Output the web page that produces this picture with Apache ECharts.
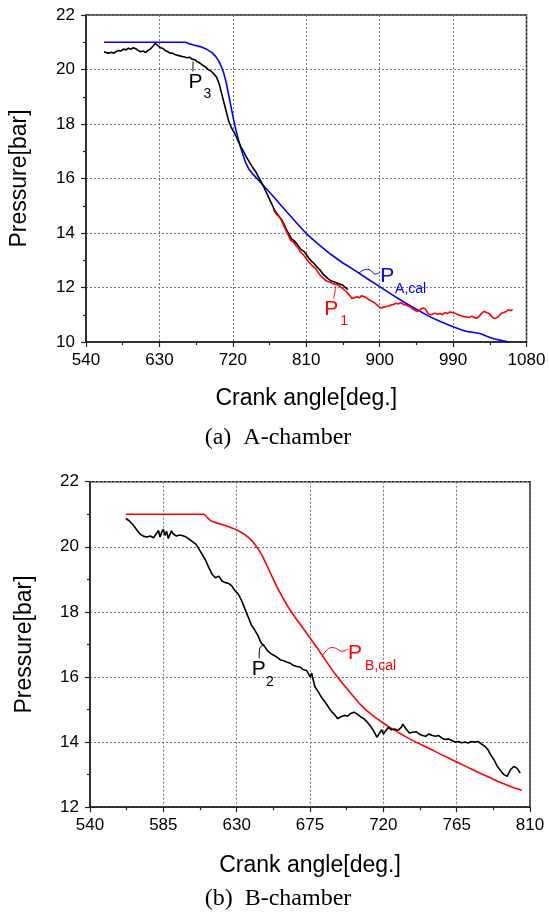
<!DOCTYPE html>
<html>
<head>
<meta charset="utf-8">
<script src="https://cdn.jsdelivr.net/npm/echarts@6/dist/echarts.min.js"></script>
<style>
html,body{margin:0;padding:0;background:#fff;}
#c{width:549px;height:912px;}
</style>
</head>
<body>
<div id="c"></div>
<script>
// ---------- Data (crank angle [deg], pressure [bar]) ----------
// Chart (a) A-chamber
const pACal = [[562,21.0],[580,21.0],[600,21.0],[620,21.0],[640,21.0],[662,21.0],[666,20.95],[672,20.9],[680,20.84],[688,20.74],[694,20.63],[699,20.48],[703,20.3],[706,20.1],[709,19.85],[712,19.5],[715,19.05],[718,18.6],[721,18.15],[724,17.75],[727,17.4],[730,17.1],[733,16.82],[736,16.56],[740,16.33],[745,16.15],[752,15.92],[760,15.66],[770,15.33],[780,14.98],[795,14.48],[810,13.98],[825,13.58],[840,13.22],[855,12.9],[870,12.62],[885,12.32],[900,12.03],[915,11.74],[930,11.46],[945,11.2],[960,10.95],[975,10.74],[990,10.56],[1000,10.45],[1008,10.38],[1016,10.35],[1024,10.3],[1032,10.2],[1040,10.12],[1050,10.05],[1058,10.0]];

const pA3 = [[562,20.65],[565,20.62],[568,20.6],[571,20.63],[574,20.6],[577,20.66],[580,20.7],[583,20.68],[586,20.75],[589,20.72],[592,20.78],[595,20.74],[598,20.8],[601,20.76],[604,20.7],[607,20.65],[610,20.68],[613,20.62],[616,20.7],[619,20.75],[622,20.85],[625,20.96],[628,20.88],[631,20.8],[634,20.78],[637,20.7],[640,20.66],[643,20.6],[646,20.6],[649,20.55],[652,20.52],[655,20.5],[658,20.48],[661,20.46],[664,20.43],[667,20.45],[670,20.38],[673,20.36],[676,20.3],[679,20.25],[682,20.18],[685,20.12],[688,20.05],[691,19.98],[694,19.92],[697,19.83],[700,19.72],[703,19.5],[706,19.15],[709,18.8],[712,18.45],[715,18.1],[718,17.88],[721,17.72],[724,17.55],[727,17.35],[730,17.15],[733,17.0],[736,16.82],[740,16.62],[744,16.42],[748,16.25],[752,16.02],[756,15.8],[760,15.56],[764,15.3],[768,15.05],[771,14.85],[774,14.72],[777,14.6],[780,14.48],[783,14.3],[786,14.1],[789,13.95],[792,13.78],[795,13.72],[798,13.62],[801,13.5],[804,13.38],[807,13.33],[810,13.22],[813,13.08],[816,12.98],[819,12.9],[822,12.8],[825,12.7],[828,12.6],[831,12.48],[834,12.4],[837,12.32],[840,12.25],[843,12.22],[846,12.18],[849,12.15],[852,12.12],[855,12.08],[858,12.0],[861,11.92]];

const pA1 = [[770,14.84],[773,14.7],[776,14.62],[779,14.5],[782,14.3],[785,14.1],[788,13.92],[791,13.72],[794,13.68],[797,13.55],[800,13.45],[803,13.3],[806,13.22],[809,13.1],[812,12.98],[815,12.88],[818,12.78],[821,12.72],[824,12.58],[827,12.46],[830,12.36],[833,12.28],[836,12.22],[839,12.2],[842,12.15],[845,12.12],[848,12.1],[851,12.05],[854,11.98],[857,11.9],[860,11.82],[863,11.72],[866,11.6],[869,11.62],[872,11.66],[875,11.62],[878,11.7],[881,11.66],[884,11.62],[887,11.55],[890,11.5],[893,11.45],[896,11.38],[899,11.3],[902,11.25],[905,11.28],[908,11.3],[911,11.32],[914,11.36],[917,11.38],[920,11.42],[923,11.4],[926,11.44],[929,11.38],[932,11.36],[935,11.32],[938,11.28],[941,11.2],[944,11.15],[947,11.12],[950,11.2],[953,11.25],[956,11.22],[959,11.05],[962,11.0],[965,11.02],[968,11.06],[971,11.02],[974,11.05],[977,11.0],[980,11.08],[983,11.05],[986,11.1],[989,11.08],[992,11.06],[995,11.02],[998,10.98],[1001,10.95],[1004,10.93],[1007,10.92],[1010,10.9],[1013,10.95],[1016,10.9],[1019,10.87],[1022,10.95],[1025,11.05],[1028,11.12],[1031,11.08],[1034,11.05],[1037,10.95],[1040,10.87],[1043,10.88],[1046,10.95],[1049,11.05],[1052,11.08],[1055,11.12],[1058,11.18],[1061,11.15],[1063,11.2]];

// Chart (b) B-chamber
const pBCal = [[562,21.0],[580,21.0],[600,21.0],[610,21.0],[612,20.9],[614,20.8],[618,20.73],[622,20.67],[626,20.6],[630,20.52],[634,20.41],[637,20.3],[640,20.15],[643,19.95],[646,19.7],[649,19.38],[652,19.05],[655,18.74],[658,18.46],[662,18.12],[666,17.82],[670,17.55],[675,17.2],[680,16.85],[685,16.48],[690,16.12],[695,15.8],[700,15.5],[705,15.2],[710,14.96],[715,14.76],[720,14.58],[725,14.42],[730,14.27],[735,14.13],[740,14.0],[745,13.88],[750,13.76],[755,13.63],[760,13.51],[765,13.39],[770,13.27],[775,13.15],[780,13.03],[785,12.92],[790,12.8],[795,12.7],[800,12.6],[805,12.52]];

const pB2 = [[562,20.87],[564,20.8],[566,20.7],[567,20.75],[569,20.5],[571,20.38],[573,20.32],[575,20.3],[577,20.33],[579,20.28],[580,20.32],[582,20.5],[583,20.3],[584,20.45],[585,20.54],[586,20.35],[587,20.48],[588,20.26],[590,20.49],[591,20.4],[593,20.33],[595,20.36],[597,20.34],[599,20.3],[601,20.23],[603,20.15],[605,20.08],[607,19.92],[609,19.75],[611,19.58],[613,19.35],[615,19.15],[617,19.05],[619,19.1],[621,18.95],[623,18.9],[625,18.88],[627,18.8],[629,18.65],[631,18.55],[633,18.35],[635,18.1],[637,17.85],[639,17.6],[641,17.45],[643,17.28],[645,17.05],[647,16.95],[649,16.8],[651,16.72],[653,16.66],[655,16.6],[657,16.52],[659,16.5],[661,16.45],[663,16.42],[665,16.35],[667,16.32],[669,16.3],[671,16.22],[673,16.2],[675,16.0],[676,16.12],[678,15.7],[680,15.55],[682,15.38],[684,15.25],[686,15.1],[688,14.95],[690,14.85],[692,14.72],[694,14.78],[696,14.82],[698,14.8],[700,14.88],[702,14.92],[704,14.86],[706,14.78],[708,14.72],[710,14.62],[712,14.5],[714,14.35],[716,14.15],[717,14.22],[719,14.38],[720,14.25],[721,14.3],[723,14.45],[725,14.38],[727,14.4],[729,14.36],[731,14.45],[732,14.55],[734,14.4],[736,14.28],[738,14.3],[740,14.32],[742,14.25],[744,14.2],[746,14.18],[748,14.25],[750,14.2],[752,14.18],[754,14.2],[756,14.12],[758,14.08],[760,14.1],[762,14.05],[764,14.0],[766,14.02],[768,13.98],[770,14.0],[772,13.97],[774,14.02],[776,14.0],[778,14.02],[780,13.95],[782,13.88],[784,13.78],[786,13.6],[788,13.45],[790,13.25],[792,13.12],[794,13.0],[796,12.95],[798,13.15],[800,13.25],[802,13.2],[804,13.05]];

// Axis settings
const xTicksA = {min:540, max:1080, interval:90};
const yTicksA = {min:10, max:22, interval:2};
const xTicksB = {min:540, max:810, interval:45};
const yTicksB = {min:12, max:22, interval:2};

const xTitle = 'Crank angle[deg.]';
const yTitle = 'Pressure[bar]';
const captions = ['(a)  A-chamber', '(b)  B-chamber'];

// Curve labels (data coordinates)
const labelsA = [
  {t:'P', x:665.5, y:19.52, s:21, c:'#000'}, {t:'3', x:683.9, y:19.1, s:14, c:'#000'},
  {t:'P', x:900.6, y:12.43, s:21, c:'#0000ff'}, {t:'A,cal', x:918.9, y:11.95, s:14, c:'#0000ff'},
  {t:'P', x:832, y:11.2, s:21, c:'#ff0000'}, {t:'1', x:851.6, y:10.78, s:14, c:'#ff0000'}
];
const labelsB = [
  {t:'P', x:698.3, y:16.74, s:21, c:'#ff0000'}, {t:'B,cal', x:708.8, y:16.33, s:14, c:'#ff0000'},
  {t:'P', x:639.2, y:16.23, s:21, c:'#000'}, {t:'2', x:648, y:15.85, s:14, c:'#000'}
];
const leadersA = [
  {c:'#000', pts:[[671.3,20.29],[671.0,19.93]]},
  {c:'#0000ff', pts:[[874,12.52],[880.2,12.64],[885,12.67],[889.2,12.62],[893.3,12.5],[897.3,12.51],[900.6,12.56]]},
  {c:'#ff0000', pts:[[846,12.05],[845,11.8],[843.4,11.6]]}
];
const leadersB = [
  {c:'#ff0000', pts:[[682.2,16.62],[684.8,16.8],[687.7,16.9],[690.9,16.88],[693.4,16.8],[695.9,16.8],[698.3,16.86]]},
  {c:'#000', pts:[[646.4,16.98],[644.3,16.9],[643.9,16.57]]}
];

// ---------- Chart ----------
const FONT = "'Liberation Sans', Arial, sans-serif";
const SERIF = "'Liberation Serif', 'Times New Roman', serif";
const AX = '#222';

function xAxisCfg(idx, t, gap) {
  return {
    type:'value', gridIndex:idx, min:t.min, max:t.max, interval:t.interval,
    name:xTitle, nameLocation:'middle', nameGap:gap,
    nameTextStyle:{fontFamily:FONT, fontSize:23, color:'#000'},
    axisLine:{show:true, onZero:false, lineStyle:{color:AX, width:1.5}},
    axisTick:{show:true, inside:false, length:5, lineStyle:{color:AX, width:1.2}},
    minorTick:{show:true, splitNumber:2, length:3, lineStyle:{color:AX, width:1.2}},
    axisLabel:{fontFamily:FONT, fontSize:17, color:'#000', margin:10, formatter:v => String(v)},
    splitLine:{show:true, lineStyle:{color:'#777', width:1, type:[2,2]}}
  };
}
function yAxisCfg(idx, t, gap) {
  return {
    type:'value', gridIndex:idx, min:t.min, max:t.max, interval:t.interval,
    name:yTitle, nameLocation:'middle', nameGap:gap, nameRotate:90,
    nameTextStyle:{fontFamily:FONT, fontSize:23, color:'#000'},
    axisLine:{show:true, onZero:false, lineStyle:{color:AX, width:1.5}},
    axisTick:{show:true, inside:false, length:5, lineStyle:{color:AX, width:1.2}},
    minorTick:{show:true, splitNumber:2, length:3, lineStyle:{color:AX, width:1.2}},
    axisLabel:{fontFamily:FONT, fontSize:17, color:'#000', margin:11, formatter:v => String(v)},
    splitLine:{show:true, lineStyle:{color:'#777', width:1, type:[2,2]}}
  };
}
function line(data, color, xi, yi) {
  return {type:'line', data:data, xAxisIndex:xi, yAxisIndex:yi, showSymbol:false, symbol:'none',
          lineStyle:{color:color, width:1.6}, itemStyle:{color:color}, silent:true, z:3};
}

const chart = echarts.init(document.getElementById('c'), null, {renderer:'canvas'});
chart.setOption({
  animation:false,
  backgroundColor:'#fff',
  grid:[
    {left:85.5, top:15, width:441, height:327, show:true, borderColor:AX, borderWidth:1.5, containLabel:false},
    {left:90, top:481.7, width:440, height:325.5, show:true, borderColor:AX, borderWidth:1.5, containLabel:false}
  ],
  xAxis:[xAxisCfg(0, xTicksA, 45), xAxisCfg(1, xTicksB, 47)],
  yAxis:[yAxisCfg(0, yTicksA, 55), yAxisCfg(1, yTicksB, 54)],
  series:[
    line(pACal, '#0000ff', 0, 0),
    line(pA3, '#000000', 0, 0),
    line(pA1, '#ff0000', 0, 0),
    line(pBCal, '#ff0000', 1, 1),
    line(pB2, '#000000', 1, 1)
  ]
});

// Annotations positioned via the chart's own coordinate conversion
const graphics = [];
function addLabels(labels, gi) {
  labels.forEach(l => {
    const p = chart.convertToPixel({xAxisIndex:gi, yAxisIndex:gi}, [l.x, l.y]);
    graphics.push({type:'text', x:p[0], y:p[1], z:10, silent:true,
      style:{text:l.t, fill:l.c, font:l.s + 'px ' + FONT, align:'left', verticalAlign:'middle', textAlign:'left', textVerticalAlign:'middle'}});
  });
}
function addLeaders(leaders, gi) {
  leaders.forEach(ld => {
    const pts = ld.pts.map(q => chart.convertToPixel({xAxisIndex:gi, yAxisIndex:gi}, q));
    graphics.push({type:'polyline', z:10, silent:true, shape:{points:pts, smooth:0.4},
      style:{stroke:ld.c, lineWidth:1, fill:null}});
  });
}
addLabels(labelsA, 0); addLabels(labelsB, 1);
addLeaders(leadersA, 0); addLeaders(leadersB, 1);
graphics.push({type:'text', x:278, y:438, silent:true,
  style:{text:captions[0], fill:'#000', font:'24px ' + SERIF, align:'center', verticalAlign:'middle', textAlign:'center', textVerticalAlign:'middle'}});
graphics.push({type:'text', x:278, y:899, silent:true,
  style:{text:captions[1], fill:'#000', font:'24px ' + SERIF, align:'center', verticalAlign:'middle', textAlign:'center', textVerticalAlign:'middle'}});
chart.setOption({graphic:graphics});
</script>
</body>
</html>
